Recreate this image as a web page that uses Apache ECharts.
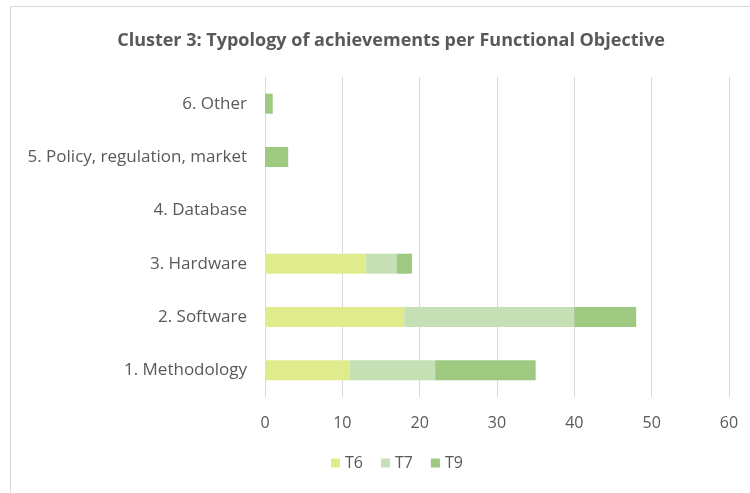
<!DOCTYPE html>
<html>
<head>
<meta charset="utf-8">
<script src="https://cdn.jsdelivr.net/npm/echarts@6/dist/echarts.min.js"></script>
<style>
  html, body { margin: 0; padding: 0; background: #fff; }
  #chart { width: 750px; height: 493px; }
</style>
</head>
<body>
<div id="chart"></div>
<script>
const categories = ['1. Methodology', '2. Software', '3. Hardware', '4. Database', '5. Policy, regulation, market', '6. Other']
const seriesNames = ['T6', 'T7', 'T9']
const t6 = [11, 18, 13, 0, 0, 0]
const t7 = [11, 22, 4, 0, 0, 0]
const t9 = [13, 8, 2, 0, 3, 1]
const colors = ['#E0EC8C', '#C5E0B4', '#9DCA80']

const chart = echarts.init(document.getElementById('chart'))
const font = '"Open Sans", "Noto Sans", sans-serif'

chart.setOption({
  backgroundColor: '#fff',
  animation: false,
  title: {
    text: 'Cluster 3: Typology of achievements per Functional Objective',
    left: 386,
    textAlign: 'center',
    top: 27,
    textStyle: { color: '#595959', fontSize: 18, fontWeight: 'bold', fontFamily: font },
  },
  graphic: [{
    type: 'rect',
    shape: { x: 10.5, y: 6.5, width: 760, height: 500 },
    style: { fill: 'none', stroke: '#d9d9d9', lineWidth: 1 },
    silent: true,
  }],
  legend: {
    bottom: 17,
    left: 326,
    itemWidth: 9,
    itemHeight: 9,
    itemGap: 18,
    icon: 'rect',
    textStyle: { color: '#595959', fontSize: 16, fontFamily: font },
    data: seriesNames,
  },
  grid: { left: 265, right: 21, top: 77, bottom: 96 },
  xAxis: {
    type: 'value',
    min: 0,
    max: 60,
    interval: 10,
    axisLine: { show: false },
    axisTick: { show: false },
    axisLabel: { color: '#595959', fontSize: 16, fontFamily: font, margin: 18 },
    splitLine: { lineStyle: { color: '#d9d9d9', width: 1 } },
  },
  yAxis: {
    type: 'category',
    data: categories,
    axisLine: { show: false },
    axisTick: { show: false },
    axisLabel: { color: '#595959', fontSize: 17, fontFamily: font, margin: 18 },
  },
  series: [t6, t7, t9].map((d, i) => ({
    name: seriesNames[i],
    type: 'bar',
    stack: 'total',
    barWidth: 20,
    itemStyle: { color: colors[i] },
    data: d,
  })),
})
</script>
</body>
</html>
